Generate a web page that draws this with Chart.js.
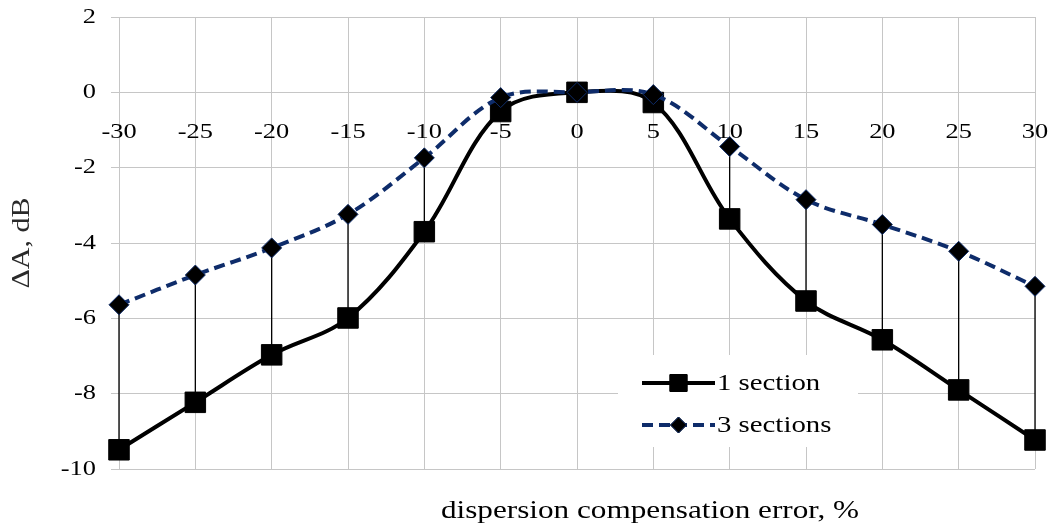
<!DOCTYPE html>
<html>
<head>
<meta charset="utf-8">
<script src="https://cdn.jsdelivr.net/npm/chart.js@4/dist/chart.umd.min.js"></script>
<style>
  html, body { margin: 0; padding: 0; background: #ffffff; }
  #wrap { position: relative; width: 1051px; height: 529px; }
</style>
</head>
<body>
<div id="wrap"><canvas id="c"></canvas></div>
<script>
// ---- data ----
const categories = ['-30', '-25', '-20', '-15', '-10', '-5', '0', '5', '10', '15', '20', '25', '30'];
const oneSection = [-9.49, -8.23, -6.97, -5.99, -3.70, -0.51, 0.0, -0.27, -3.36, -5.54, -6.57, -7.90, -9.23];
const threeSections = [-5.64, -4.85, -4.13, -3.24, -1.74, -0.14, 0.0, -0.06, -1.44, -2.85, -3.51, -4.22, -5.15];
const seriesNames = ['1 section', '3 sections'];
const yMin = -10, yMax = 2, yStep = 2;
const yTitle = 'ΔA, dB';
const xTitle = 'dispersion compensation error, %';

// ---- styling ----
const FONT = '"Liberation Serif", "Times New Roman", serif';
const GRID = '#C6C6C6';
const NAVY = '#0E2C6A';
const TEXT_SX = 1.2; // horizontal text stretch as in the reference rendering

const canvas = document.getElementById('c');
const ctx0 = canvas.getContext('2d');
const origFill = ctx0.fillText.bind(ctx0);
ctx0.fillText = function (t, x, y) {
  this.save();
  this.translate(x, y);
  this.scale(TEXT_SX, 1);
  origFill(t, 0, 0);
  this.restore();
};

const underlay = {
  id: 'underlay',
  beforeDatasetsDraw(chart) {
    const ctx = chart.ctx;
    const xs = chart.scales.x, ys = chart.scales.y;
    // category labels next to the axis crossing at y = 0
    ctx.save();
    ctx.font = '22px ' + FONT;
    ctx.fillStyle = '#000';
    ctx.textAlign = 'center';
    ctx.textBaseline = 'middle';
    const y0 = ys.getPixelForValue(0);
    chart.data.labels.forEach((lab, i) => {
      ctx.fillText(lab, xs.getPixelForValue(i), y0 + 40);
    });
    ctx.restore();

    // high-low lines between the two series
    const a = chart.getDatasetMeta(0).data;
    const b = chart.getDatasetMeta(1).data;
    ctx.save();
    ctx.strokeStyle = '#000000';
    ctx.lineWidth = 1.3;
    for (let i = 0; i < a.length; i++) {
      if (!a[i] || !b[i]) continue;
      ctx.beginPath();
      ctx.moveTo(a[i].x, a[i].y);
      ctx.lineTo(b[i].x, b[i].y);
      ctx.stroke();
    }
    ctx.restore();
  }
};

const extras = {
  id: 'extras',
  afterDraw(chart) {
    const ctx = chart.ctx;
    const ca = chart.chartArea;
    // x-axis title
    ctx.save();
    ctx.font = '26px ' + FONT;
    ctx.fillStyle = '#000';
    ctx.textAlign = 'center';
    ctx.textBaseline = 'alphabetic';
    ctx.fillText(xTitle, (ca.left + ca.right) / 2 + 73, ca.bottom + 49);
    ctx.restore();

    // legend box
    const lx = ca.left + 499, ly = ca.top + 338, lw = 240, lh = 92;
    ctx.save();
    ctx.fillStyle = '#ffffff';
    ctx.fillRect(lx, ly, lw, lh);
    const ds = chart.data.datasets;
    const rows = [ly + 28, ly + 70];
    ds.forEach((d, i) => {
      const y = rows[i];
      const x1 = lx + 24, x2 = lx + 97, xm = (x1 + x2) / 2;
      ctx.save();
      ctx.strokeStyle = d.borderColor;
      ctx.lineWidth = d.borderWidth;
      ctx.setLineDash(d.borderDash || []);
      ctx.beginPath();
      ctx.moveTo(x1, y);
      ctx.lineTo(x2, y);
      ctx.stroke();
      ctx.restore();
      Chart.helpers.drawPoint(ctx, {
        pointStyle: d.pointStyle,
        radius: i === 0 ? 12 : 8,
        borderWidth: 1,
        rotation: 0
      }, xm, y);
      ctx.save();
      ctx.fillStyle = d.pointBackgroundColor;
      ctx.strokeStyle = d.pointBorderColor;
      ctx.fill();
      ctx.stroke();
      ctx.restore();
      ctx.save();
      ctx.font = '24px ' + FONT;
      ctx.fillStyle = '#000';
      ctx.textAlign = 'left';
      ctx.textBaseline = 'middle';
      ctx.fillText(d.label, x2 + 2, y + 1);
      ctx.restore();
    });
    ctx.restore();
  }
};

new Chart(canvas, {
  type: 'line',
  data: {
    labels: categories,
    datasets: [
      {
        label: seriesNames[0],
        data: oneSection,
        order: 1,
        borderColor: '#000000',
        borderWidth: 4,
        tension: 0.35,
        pointStyle: 'rect',
        pointRadius: 14.5,
        pointHoverRadius: 14.5,
        pointBackgroundColor: '#000000',
        pointBorderColor: '#000000',
        pointBorderWidth: 1
      },
      {
        label: seriesNames[1],
        data: threeSections,
        order: 0,
        borderColor: NAVY,
        borderWidth: 4,
        borderDash: [11, 6],
        tension: 0.35,
        pointStyle: 'rectRot',
        pointRadius: 10,
        pointHoverRadius: 10,
        pointBackgroundColor: '#000000',
        pointBorderColor: NAVY,
        pointBorderWidth: 1
      }
    ]
  },
  options: {
    responsive: true,
    maintainAspectRatio: false,
    animation: false,
    layout: { padding: { left: 0, right: 16, top: 17, bottom: 60 } },
    plugins: { legend: { display: false }, tooltip: { enabled: false } },
    scales: {
      x: {
        type: 'category',
        position: { y: 0 },
        offset: false,
        afterFit(scale) { scale.paddingLeft = 0; scale.paddingRight = 0; },
        grid: { color: GRID, lineWidth: 1, drawTicks: false },
        border: { display: false },
        ticks: { display: false, autoSkip: false, maxRotation: 0 }
      },
      y: {
        min: yMin,
        max: yMax,
        afterFit(scale) { scale.width = 119; scale.paddingTop = 0; scale.paddingBottom = 0; },
        grid: { color: GRID, lineWidth: 1, tickLength: 8 },
        border: { display: false },
        ticks: {
          stepSize: yStep,
          color: '#000',
          font: { family: FONT, size: 22 },
          padding: 15
        },
        title: {
          display: true,
          text: yTitle,
          color: '#2a2a2a',
          font: { family: FONT, size: 25, weight: 'normal' },
          padding: { top: 7, bottom: 0 }
        }
      }
    }
  },
  plugins: [underlay, extras]
});
</script>
</body>
</html>
